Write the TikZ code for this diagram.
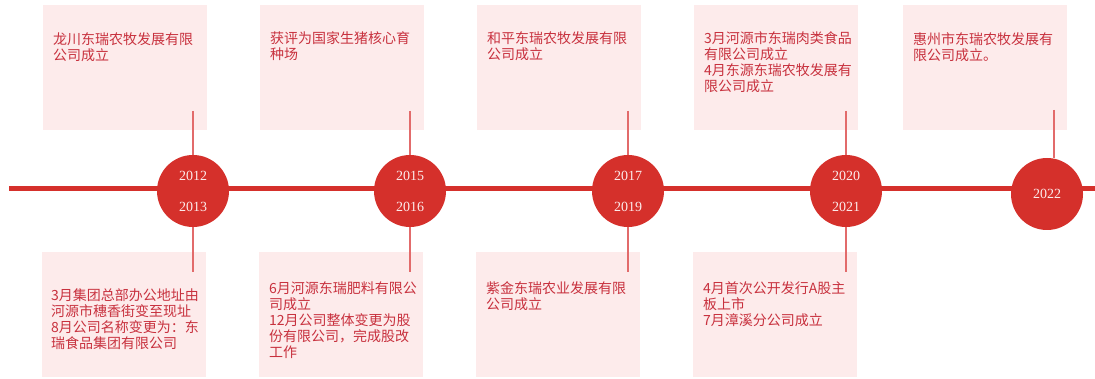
\documentclass[tikz,border=0pt]{standalone}
\usepackage{fontspec}
\setmainfont{Liberation Serif}
\newfontfamily\cjk{Noto Sans CJK SC}
\usetikzlibrary{positioning}

\definecolor{ballred}{HTML}{D5302B}
\definecolor{boxpink}{HTML}{FDEBEB}
\definecolor{textred}{HTML}{C8313E}
\definecolor{linkred}{HTML}{E26B6B}
\definecolor{yearwhite}{HTML}{FCEBEB}

\begin{document}
\begin{tikzpicture}[x=1pt, y=-1pt,
  yearball/.style={circle, fill=ballred, minimum size=72pt, inner sep=0pt,
    text=yearwhite, align=center, font=\fontsize{14}{31}\selectfont},
  infobox/.style={fill=boxpink, minimum width=164pt, minimum height=125pt,
    inner sep=0pt, anchor=north west},
  infotext/.style={anchor=north west, inner sep=0pt, align=left,
    text=textred, font=\cjk\fontsize{14}{16}\selectfont},
  linkline/.style={draw=linkred, line width=1.2pt}]

  \useasboundingbox (0,0) rectangle (1095,379);

  % boxes above the axis
  \node[infobox] (a12) at (43,5) {};
  \node[infobox] (a15) at (260,5) {};
  \node[infobox] (a17) at (477,5) {};
  \node[infobox] (a20) at (694,5) {};
  \node[infobox] (a22) at (903,5) {};
  % boxes below the axis
  \node[infobox] (b13) at (42,252) {};
  \node[infobox] (b16) at (259,252) {};
  \node[infobox] (b19) at (476,252) {};
  \node[infobox] (b21) at (693,252) {};

  % input texts
  \node[infotext] (ta12) at (53,32) {龙川东瑞农牧发展有限\\公司成立};
  \node[infotext] (ta15) at (270,31) {获评为国家生猪核心育\\种场};
  \node[infotext] (ta17) at (487,31) {和平东瑞农牧发展有限\\公司成立};
  \node[infotext] (ta20) at (704,31) {3月河源市东瑞肉类食品\\有限公司成立\\4月东源东瑞农牧发展有\\限公司成立};
  \node[infotext] (ta22) at (913,32) {惠州市东瑞农牧发展有\\限公司成立。};

  \node[infotext] (tb13) at (51,288) {3月集团总部办公地址由\\河源市穗香街变至现址\\8月公司名称变更为：东\\瑞食品集团有限公司};
  \node[infotext] (tb16) at (269,281) {6月河源东瑞肥料有限公\\司成立\\12月公司整体变更为股\\份有限公司，完成股改\\工作};
  \node[infotext] (tb19) at (486,281) {紫金东瑞农业发展有限\\公司成立};
  \node[infotext] (tb21) at (703,281) {4月首次公开发行A股主\\板上市\\7月漳溪分公司成立};

  % axis
  \coordinate (axl) at (9,189);
  \coordinate (axr) at (1095,189);
  \draw[ballred, line width=5pt] (axl) -- (axr);

  % year balls
  \node[yearball] (y12) at (193,191) {2012\\2013};
  \node[yearball] (y15) at (410,191) {2015\\2016};
  \node[yearball] (y17) at (628,191) {2017\\2019};
  \node[yearball] (y20) at (846,191) {2020\\2021};
  \node[yearball] (y22) at (1047,194) {2022};

  % links to the boxes
  \coordinate (p12) at (193,111);
  \coordinate (p15) at (410,111);
  \coordinate (p17) at (628,111);
  \coordinate (p20) at (846,111);
  \coordinate (p22) at (1054,110);
  \coordinate (q13) at (193,272);
  \coordinate (q16) at (410,272);
  \coordinate (q19) at (628,272);
  \coordinate (q21) at (846,272);

  \draw[linkline] (p12) -- (y12.north);
  \draw[linkline] (p15) -- (y15.north);
  \draw[linkline] (p17) -- (y17.north);
  \draw[linkline] (p20) -- (y20.north);
  \draw[linkline] (p22) -- (p22 |- y22.north);
  \draw[linkline] (y12.south) -- (q13);
  \draw[linkline] (y15.south) -- (q16);
  \draw[linkline] (y17.south) -- (q19);
  \draw[linkline] (y20.south) -- (q21);
\end{tikzpicture}
\end{document}
